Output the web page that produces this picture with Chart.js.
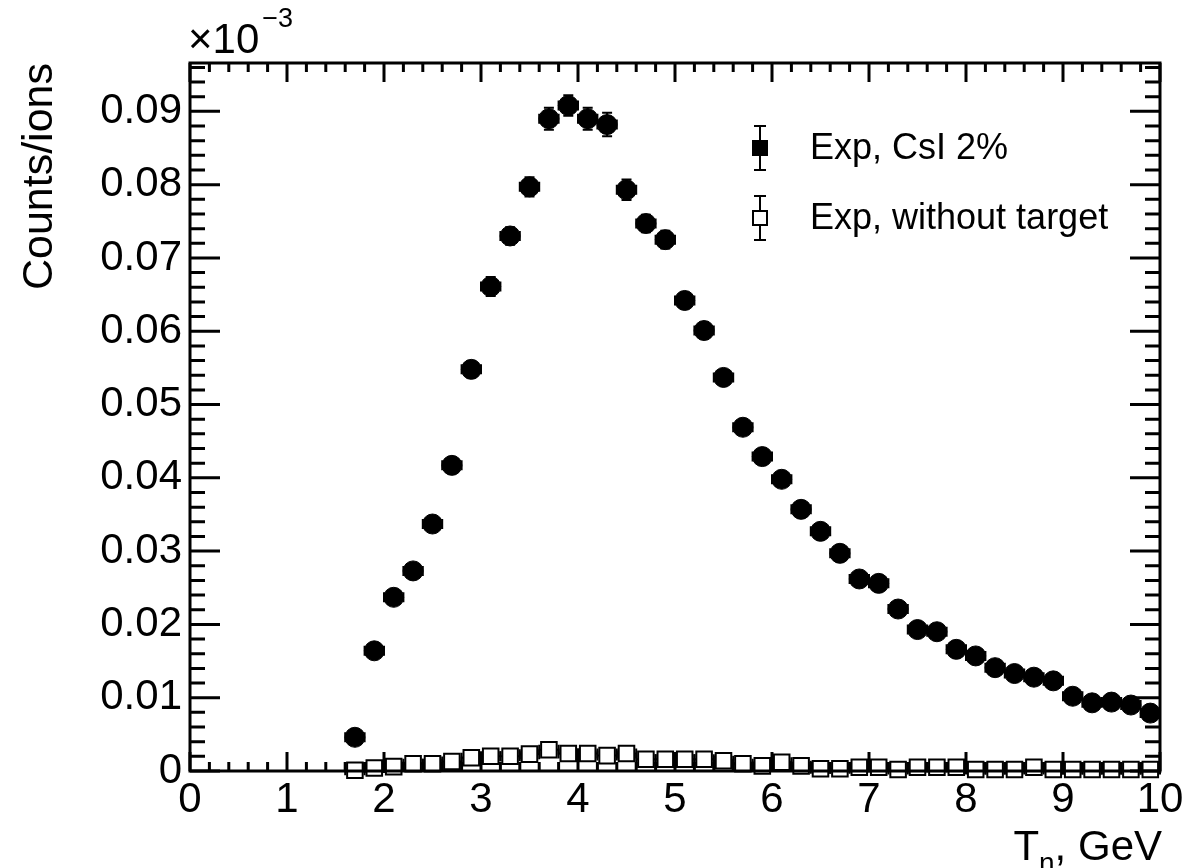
<!DOCTYPE html>
<html>
<head>
<meta charset="utf-8">
<script src="https://cdn.jsdelivr.net/npm/chart.js@4.4.0/dist/chart.umd.min.js"></script>
<style>
body { margin: 0; background: #fff; }
#wrap { width: 1190px; height: 868px; }
</style>
</head>
<body>
<div id="wrap"><canvas id="chart" width="1190" height="868"></canvas></div>
<script>
// bin centres, GeV
const energy = [1.7, 1.9, 2.1, 2.3, 2.5, 2.7, 2.9, 3.1, 3.3, 3.5, 3.7, 3.9, 4.1, 4.3,
    4.5, 4.7, 4.9, 5.1, 5.3, 5.5, 5.7, 5.9, 6.1, 6.3, 6.5, 6.7, 6.9, 7.1,
    7.3, 7.5, 7.7, 7.9, 8.1, 8.3, 8.5, 8.7, 8.9, 9.1, 9.3, 9.5, 9.7, 9.9];
const binHalfWidth = 0.1;

// Exp, CsI 2%
const csiCounts = [0.0046, 0.0164, 0.0237, 0.0273, 0.0337, 0.0417, 0.0548, 0.0661, 0.0730, 0.0797, 0.0890, 0.0908, 0.0890, 0.0882,
    0.0793, 0.0747, 0.0725, 0.0642, 0.0601, 0.0537, 0.0469, 0.0429, 0.0398, 0.0357, 0.0327, 0.0297, 0.0262, 0.0256,
    0.0221, 0.0193, 0.0190, 0.0166, 0.0157, 0.0141, 0.0133, 0.0128, 0.0123, 0.0102, 0.0093, 0.0094, 0.0090, 0.0079];
const csiErrors = [0.0006, 0.0007, 0.0008, 0.0009, 0.0009, 0.0010, 0.0011, 0.0013, 0.0012, 0.0013, 0.0015, 0.0014, 0.0015, 0.0016,
    0.0014, 0.0012, 0.0012, 0.0011, 0.0011, 0.0010, 0.0009, 0.0009, 0.0008, 0.0008, 0.0008, 0.0007, 0.0007, 0.0007,
    0.0006, 0.0006, 0.0006, 0.0006, 0.0005, 0.0005, 0.0005, 0.0005, 0.0005, 0.0005, 0.0005, 0.0005, 0.0005, 0.0005];

// Exp, without target
const noTargetCounts = [0.0001, 0.0004, 0.0006, 0.0010, 0.0010, 0.0013, 0.0018, 0.0020, 0.0020, 0.0023, 0.0029, 0.0024, 0.0024, 0.0021,
    0.0024, 0.0016, 0.0016, 0.0016, 0.0016, 0.0014, 0.0010, 0.0007, 0.0012, 0.0007, 0.0003, 0.0003, 0.0005, 0.0005,
    0.0002, 0.0005, 0.0005, 0.0005, 0.0002, 0.0002, 0.0002, 0.0005, 0.0002, 0.0002, 0.0002, 0.0002, 0.0002, 0.0002];
const noTargetErrors = [0.0002, 0.0003, 0.0003, 0.0003, 0.0003, 0.0004, 0.0004, 0.0004, 0.0004, 0.0004, 0.0005, 0.0004, 0.0004, 0.0004,
    0.0004, 0.0004, 0.0004, 0.0004, 0.0004, 0.0003, 0.0003, 0.0003, 0.0003, 0.0003, 0.0002, 0.0002, 0.0002, 0.0002,
    0.0002, 0.0002, 0.0002, 0.0002, 0.0002, 0.0002, 0.0002, 0.0002, 0.0002, 0.0002, 0.0002, 0.0002, 0.0002, 0.0002];

const xTickLabels = ['0', '1', '2', '3', '4', '5', '6', '7', '8', '9', '10'];
const yTickLabels = ['0', '0.01', '0.02', '0.03', '0.04', '0.05', '0.06', '0.07', '0.08', '0.09'];

const FONT = "'Liberation Sans', Arial, Helvetica, sans-serif";

function toPoints(xs, ys) {
    return xs.map((x, i) => ({x: x, y: ys[i]}));
}

// ROOT style frame with inward ticks on all four sides
const frameTicks = {
    id: 'frameTicks',
    beforeDatasetsDraw(chart) {
        const ctx = chart.ctx;
        const a = chart.chartArea;
        const x = chart.scales.x, y = chart.scales.y;
        ctx.save();
        ctx.strokeStyle = '#000';
        ctx.lineWidth = 3;
        ctx.beginPath();
        for (let i = 0; i <= 50; i++) {
            const px = x.getPixelForValue(i * 0.2);
            const len = i % 5 == 0 ? 19 : 9;
            ctx.moveTo(px, a.bottom); ctx.lineTo(px, a.bottom - len);
            ctx.moveTo(px, a.top); ctx.lineTo(px, a.top + len);
        }
        for (let i = 0; i * 0.002 <= y.max; i++) {
            const py = y.getPixelForValue(i * 0.002);
            const len = i % 5 == 0 ? 30 : 15;
            ctx.moveTo(a.left, py); ctx.lineTo(a.left + len, py);
            ctx.moveTo(a.right, py); ctx.lineTo(a.right - len, py);
        }
        ctx.stroke();
        ctx.strokeRect(a.left, a.top, a.width, a.height);
        ctx.restore();
    }
};

const errorBars = {
    id: 'errorBars',
    beforeDatasetsDraw(chart) {
        const ctx = chart.ctx;
        const xs = chart.scales.x, ys = chart.scales.y;
        const cap = 5;
        ctx.save();
        ctx.strokeStyle = '#000';
        ctx.lineWidth = 2;
        chart.data.datasets.forEach((ds, di) => {
            const gap = ds.hollow ? ds.pointRadius * Math.SQRT1_2 : 0;
            ds.data.forEach((d, i) => {
                const cx = xs.getPixelForValue(d.x), cy = ys.getPixelForValue(d.y);
                const x0 = xs.getPixelForValue(d.x - binHalfWidth);
                const x1 = xs.getPixelForValue(d.x + binHalfWidth);
                const y0 = ys.getPixelForValue(d.y - ds.errors[i]);
                const y1 = ys.getPixelForValue(d.y + ds.errors[i]);
                ctx.beginPath();
                if (cx - gap > x0) { ctx.moveTo(x0, cy); ctx.lineTo(cx - gap, cy); }
                if (x1 > cx + gap) { ctx.moveTo(cx + gap, cy); ctx.lineTo(x1, cy); }
                ctx.moveTo(x0, cy - cap); ctx.lineTo(x0, cy + cap);
                ctx.moveTo(x1, cy - cap); ctx.lineTo(x1, cy + cap);
                if (y0 > cy + gap) {
                    ctx.moveTo(cx, cy + gap); ctx.lineTo(cx, y0);
                    ctx.moveTo(cx - cap, y0); ctx.lineTo(cx + cap, y0);
                }
                if (y1 < cy - gap) {
                    ctx.moveTo(cx, cy - gap); ctx.lineTo(cx, y1);
                    ctx.moveTo(cx - cap, y1); ctx.lineTo(cx + cap, y1);
                }
                ctx.stroke();
            });
        });
        ctx.restore();
    }
};

const textAndLegend = {
    id: 'textAndLegend',
    afterDraw(chart) {
        const ctx = chart.ctx;
        const a = chart.chartArea;
        ctx.save();
        ctx.fillStyle = '#000';
        ctx.strokeStyle = '#000';

        // exponent above the y axis
        ctx.font = '42px ' + FONT;
        ctx.textBaseline = 'alphabetic';
        ctx.textAlign = 'left';
        ctx.fillText('\u00d710', a.left - 2, 53);
        const w10 = ctx.measureText('\u00d710').width;
        ctx.font = '27px ' + FONT;
        ctx.fillText('\u22123', a.left - 2 + w10 + 3, 27);

        // y title
        ctx.save();
        ctx.font = '43px ' + FONT;
        ctx.translate(52, a.top);
        ctx.rotate(-Math.PI / 2);
        ctx.textAlign = 'right';
        ctx.fillText('Counts/ions', 0, 0);
        ctx.restore();

        // x title: T_n, GeV
        ctx.font = '42px ' + FONT;
        ctx.textAlign = 'right';
        ctx.fillText(', GeV', a.right + 2, 860);
        let xr = a.right + 2 - ctx.measureText(', GeV').width;
        ctx.font = '28px ' + FONT;
        ctx.fillText('n', xr, 872);
        xr -= ctx.measureText('n').width;
        ctx.font = '42px ' + FONT;
        ctx.fillText('T', xr, 860);

        // legend
        ctx.textAlign = 'left';
        ctx.textBaseline = 'middle';
        ctx.lineWidth = 2;
        const rows = [148, 218];
        chart.data.datasets.forEach((ds, i) => {
            const mx = 760, my = rows[i];
            ctx.beginPath();
            ctx.moveTo(mx, my - 22); ctx.lineTo(mx, my + 22);
            ctx.moveTo(mx - 6, my - 22); ctx.lineTo(mx + 6, my - 22);
            ctx.moveTo(mx - 6, my + 22); ctx.lineTo(mx + 6, my + 22);
            ctx.stroke();
            ctx.fillStyle = ds.hollow ? '#fff' : '#000';
            ctx.fillRect(mx - 7, my - 7, 14, 14);
            ctx.strokeRect(mx - 7, my - 7, 14, 14);
            ctx.fillStyle = '#000';
            ctx.font = '36px ' + FONT;
            ctx.fillText(ds.label, 810, my + 1);
        });
        ctx.restore();
    }
};

function renderChart(canvasId) {
    Chart.defaults.font.family = FONT;
    Chart.defaults.color = '#000';

    const ctx = document.getElementById(canvasId).getContext('2d');
    new Chart(ctx, {
        type: 'scatter',
        data: {
            datasets: [{
                label: 'Exp, CsI 2%',
                data: toPoints(energy, csiCounts),
                errors: csiErrors,
                pointStyle: 'circle',
                pointRadius: 10,
                backgroundColor: '#000',
                borderColor: '#000',
                borderWidth: 1,
                clip: 14
            },
            {
                label: 'Exp, without target',
                data: toPoints(energy, noTargetCounts),
                errors: noTargetErrors,
                hollow: true,
                pointStyle: 'rect',
                pointRadius: 11,
                backgroundColor: 'rgba(0,0,0,0)',
                borderColor: '#000',
                borderWidth: 2,
                clip: 14
            }]
        },
        options: {
            responsive: false,
            animation: false,
            events: [],
            layout: {
                padding: {left: 0, right: 30, top: 63, bottom: 0}
            },
            plugins: {
                legend: {display: false},
                tooltip: {enabled: false}
            },
            scales: {
                x: {
                    type: 'linear',
                    min: 0,
                    max: 10,
                    border: {display: false},
                    grid: {display: false, drawTicks: false},
                    ticks: {
                        stepSize: 1,
                        padding: 4,
                        maxRotation: 0,
                        font: {size: 42},
                        callback: (v) => xTickLabels[Math.round(v)]
                    },
                    afterFit: (scale) => { scale.height = 97; }
                },
                y: {
                    type: 'linear',
                    min: 0,
                    max: 0.0966,
                    border: {display: false},
                    grid: {display: false, drawTicks: false},
                    ticks: {
                        stepSize: 0.01,
                        includeBounds: false,
                        padding: 8,
                        font: {size: 42},
                        callback: (v) => yTickLabels[Math.round(v / 0.01)]
                    },
                    afterFit: (scale) => { scale.width = 190; }
                }
            }
        },
        plugins: [frameTicks, errorBars, textAndLegend]
    });
}

renderChart('chart');
</script>
</body>
</html>
